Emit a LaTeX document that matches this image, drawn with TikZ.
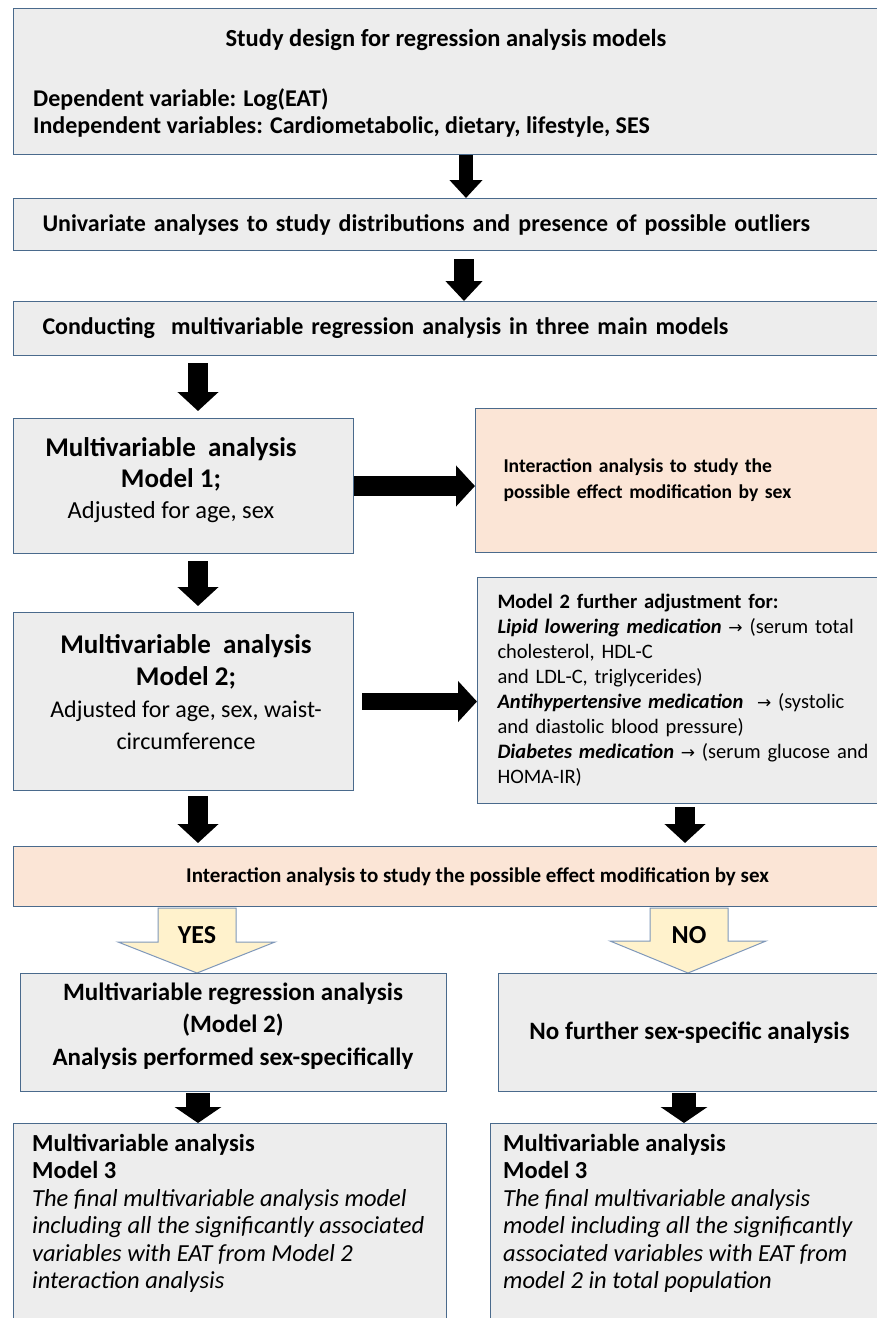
\documentclass[tikz,border=0pt]{standalone}
\usepackage{fontspec}
\setmainfont{Carlito}
\newfontfamily\arrowfont{DejaVu Sans}
\usetikzlibrary{arrows.meta}

\definecolor{boxgrey}{HTML}{EDEDED}
\definecolor{boxedge}{HTML}{4A6A8C}
\definecolor{peach}{HTML}{FBE5D6}
\definecolor{pale}{HTML}{FFF2CC}
\definecolor{paleedge}{HTML}{7F98BA}

\newcommand{\fsize}[2]{\fontsize{#1}{#2}\selectfont}
\newcommand{\goesto}{{\arrowfont\fontsize{17}{20}\selectfont →}}

\tikzset{
  greybox/.style={draw=boxedge, fill=boxgrey, line width=1pt, anchor=north west, inner sep=0pt},
  peachbox/.style={greybox, fill=peach},
  txt/.style={inner sep=0pt},
  fatarrow/.style={line width=20pt, -{Triangle[length=19pt,width=40pt]}},
  thinarrow/.style={line width=14pt, -{Triangle[length=18pt,width=32pt]}},
  blockarrow/.style={draw=paleedge, fill=pale, line width=1pt, line join=miter}
}

\begin{document}
\begin{tikzpicture}[x=1pt,y=-1pt]
\clip (0,0) rectangle (877,1318);
\fill[white] (0,0) rectangle (877,1318);

% top of the flow
\node[greybox, minimum width=867pt, minimum height=146pt] (design) at (13,8) {};
\node[txt, font=\bfseries\fsize{24.5}{27}] (designtitle) at (446,40) {Study design for regression analysis models};
\node[txt, anchor=west, align=left, font=\bfseries\fsize{24}{27}] (designvars) at (33,113)
  {Dependent variable: Log(EAT)\\Independent variables: Cardiometabolic, dietary, lifestyle, SES};

\node[greybox, minimum width=867pt, minimum height=52pt, text width=809pt, inner xsep=29pt, align=left,
  font=\bfseries\fsize{24}{27}] (univ) at (13,198)
  {Univariate analyses to study distributions and presence of possible outliers};
\node[greybox, minimum width=867pt, minimum height=54pt, text width=809pt, inner xsep=29pt, align=left,
  font=\bfseries\fsize{24}{27}] (conduct) at (13,301)
  {Conducting~ multivariable regression analysis in three main models};

% models 1 and 2
\node[greybox, minimum width=340pt, minimum height=135pt] (model1) at (13,418) {};
\node[txt, align=center, font=\fsize{24.5}{31}] (model1text) at (171,480)
  {{\bfseries\fsize{27}{31}Multivariable~ analysis}\\{\bfseries\fsize{27}{31}Model 1;}\\Adjusted for age, sex};
\node[peachbox, minimum width=405pt, minimum height=144pt, text width=349pt, inner xsep=28pt, align=left,
  font=\bfseries\fsize{19.6}{26}] (inter1) at (475,408)
  {Interaction analysis to study the\\possible effect modification by sex};

\node[greybox, minimum width=340pt, minimum height=178pt] (model2) at (13,612) {};
\node[txt, align=center, font=\fsize{24}{32}] (model2text) at (186,692)
  {{\bfseries\fsize{27}{32}Multivariable~ analysis}\\{\bfseries\fsize{27}{32}Model 2;}\\Adjusted for age, sex, waist-\\circumference};
\node[greybox, minimum width=403pt, minimum height=226pt, text width=440pt, inner xsep=20pt, align=left,
  font=\fsize{20.5}{25}] (adjust) at (477,577)
  {\textbf{Model 2 further adjustment for:}\\
   \textbf{\textit{Lipid lowering medication}} \goesto{} (serum total\\
   cholesterol, HDL-C\\
   and LDL-C, triglycerides)\\
   \textbf{\textit{Antihypertensive medication}}~ \goesto{} (systolic\\
   and diastolic blood pressure)\\
   \textbf{\textit{Diabetes medication}} \goesto{} (serum glucose and\\
   HOMA-IR)};

\node[peachbox, minimum width=928pt, minimum height=60pt, align=center, font=\bfseries\fsize{21}{24}] (inter2) at (13,846)
  {Interaction analysis to study the possible effect modification by sex};

% yes / no
\coordinate (yestip) at (197,973);
\coordinate (notip) at (688,973);
\draw[blockarrow] (yestip) -- ++(-79,-31) -- ++(40,0) -- ++(0,-34) -- ++(78,0) -- ++(0,34) -- ++(39,0) -- cycle;
\draw[blockarrow] (notip) -- ++(-78,-32) -- ++(40,0) -- ++(0,-33) -- ++(78,0) -- ++(0,33) -- ++(38,0) -- cycle;
\node[txt, font=\bfseries\fsize{26}{28}] (yes) at (197,935) {YES};
\node[txt, font=\bfseries\fsize{26}{28}] (no) at (689,935) {NO};

\node[greybox, minimum width=426pt, minimum height=118pt] (yesres) at (20,973) {};
\node[txt, align=center, font=\bfseries\fsize{25}{32.5}] (yesrestext) at (233,1026)
  {Multivariable regression analysis\\(Model 2)\\Analysis performed sex-specifically};
\node[greybox, minimum width=382pt, minimum height=118pt, align=center, font=\bfseries\fsize{25}{28}] (nores) at (498,973)
  {No further sex-specific analysis};

% model 3
\node[greybox, minimum width=433pt, minimum height=230pt] (model3a) at (13,1123) {};
\node[txt, anchor=north west, align=left, font=\fsize{24.5}{27.5}] (model3atext) at (32,1134)
  {\textbf{Multivariable analysis}\\\textbf{Model 3}\\
   \textit{The final multivariable analysis model}\\
   \textit{including all the significantly associated}\\
   \textit{variables with EAT from Model 2}\\
   \textit{interaction analysis}};
\node[greybox, minimum width=390pt, minimum height=230pt] (model3b) at (490,1123) {};
\node[txt, anchor=north west, align=left, font=\fsize{24.5}{27.5}] (model3btext) at (503,1134)
  {\textbf{Multivariable analysis}\\\textbf{Model 3}\\
   \textit{The final multivariable analysis}\\
   \textit{model including all the significantly}\\
   \textit{associated variables with EAT from}\\
   \textit{model 2 in total population}};

% arrows
\draw[thinarrow] (design.south -| 466,0) -- (univ.north -| 466,0);
\draw[thinarrow, line width=20pt, -{Triangle[length=20pt,width=36pt]}, shorten <=8pt] (univ.south -| 464,0) -- (conduct.north -| 464,0);
\draw[fatarrow, shorten <=7pt, shorten >=7pt] (conduct.south -| 198,0) -- (model1.north -| 198,0);
\draw[fatarrow] (model1.east) -- (inter1.west |- model1.east);
\draw[fatarrow, shorten <=7pt, shorten >=6pt] (model1.south -| 198,0) -- (model2.north -| 198,0);
\draw[fatarrow, line width=17pt, shorten <=8pt] (model2.east) -- (adjust.west |- model2.east);
\draw[fatarrow, shorten <=5pt, shorten >=3pt] (model2.south -| 198,0) -- (inter2.north -| 198,0);
\draw[fatarrow, shorten <=3pt, shorten >=3pt] (adjust.south -| 685,0) -- (inter2.north -| 685,0);
\draw[fatarrow, line width=24pt, -{Triangle[length=16pt,width=46pt]}, shorten <=1pt] (yesres.south -| 198,0) -- (model3a.north -| 198,0);
\draw[fatarrow, line width=24pt, -{Triangle[length=16pt,width=46pt]}, shorten <=1pt] (nores.south -| 684,0) -- (model3b.north -| 684,0);
\end{tikzpicture}
\end{document}
